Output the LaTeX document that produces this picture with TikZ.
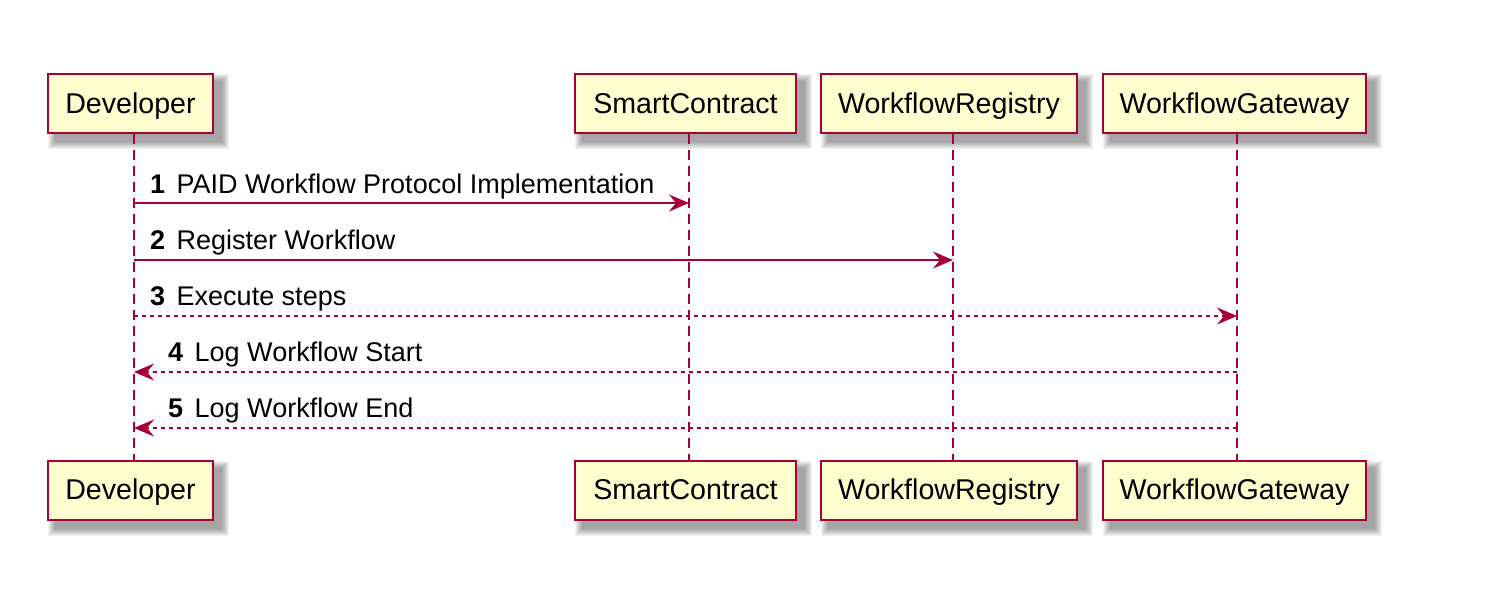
\documentclass[tikz,border=0pt]{standalone}
\usepackage{fontspec}
\setmainfont{Liberation Sans}
\usetikzlibrary{arrows.meta,backgrounds}
\definecolor{puml}{HTML}{A80036}
\definecolor{pfill}{HTML}{FEFECE}
\tikzset{
  actor/.style={draw=puml, fill=pfill, line width=2pt, minimum height=59pt, inner sep=0pt, text height=25pt, text depth=6pt, font=\fontsize{28.6}{32}\selectfont},
  lifeline/.style={draw=puml, line width=1.5pt, dash pattern=on 10pt off 6pt},
  msg/.style={draw=puml, line width=1.6pt, -{Stealth[length=20pt,width=17pt,inset=7pt]}},
  ret/.style={msg, dash pattern=on 4pt off 4pt},
  lbl/.style={anchor=base west, inner sep=0pt, font=\fontsize{27}{30}\selectfont}
}
\begin{document}
\begin{tikzpicture}[x=1pt,y=-1pt]
\useasboundingbox (0,0) rectangle (1492,590);
% lifeline x positions
\coordinate (Ld) at (134,0);
\coordinate (Ls) at (689,0);
\coordinate (Lr) at (953,0);
\coordinate (Lg) at (1237,0);
% top boxes
\node[actor, minimum width=165pt] (d1) at (130.5,103.5) {Developer};
\node[actor, minimum width=221pt] (s1) at (685.5,103.5) {SmartContract};
\node[actor, minimum width=256pt] (r1) at (949,103.5) {WorkflowRegistry};
\node[actor, minimum width=263pt] (g1) at (1234.5,103.5) {WorkflowGateway};
% bottom boxes
\node[actor, minimum width=165pt] (d2) at (130.5,490) {Developer};
\node[actor, minimum width=221pt] (s2) at (685.5,490) {SmartContract};
\node[actor, minimum width=256pt] (r2) at (949,490) {WorkflowRegistry};
\node[actor, minimum width=263pt] (g2) at (1234.5,490) {WorkflowGateway};
\begin{scope}[on background layer]
  \fill[white] (0,0) rectangle (1492,590);
  \foreach \n in {d1,s1,r1,g1,d2,s2,r2,g2}{
    \foreach \k in {0,1,...,7}{
      \fill[black, opacity=0.05] ([shift={(8-\k,8-\k)}]\n.north west) rectangle ([shift={(8+\k,8+\k)}]\n.south east);
    }
  }
  \draw[lifeline] (Ld |- d1.south) -- (Ld |- d2.north);
  \draw[lifeline] (Ls |- s1.south) -- (Ls |- s2.north);
  \draw[lifeline] (Lr |- r1.south) -- (Lr |- r2.north);
  \draw[lifeline] (Lg |- g1.south) -- (Lg |- g2.north);
\end{scope}
% messages
\coordinate (m1a) at (Ld |- 0,203); \coordinate (m1b) at (Ls |- 0,203);
\coordinate (m2a) at (Ld |- 0,260); \coordinate (m2b) at (Lr |- 0,260);
\coordinate (m3a) at (Ld |- 0,316); \coordinate (m3b) at (Lg |- 0,316);
\coordinate (m4a) at (Lg |- 0,372); \coordinate (m4b) at (Ld |- 0,372);
\coordinate (m5a) at (Lg |- 0,428); \coordinate (m5b) at (Ld |- 0,428);
\draw[msg] (m1a) -- (m1b);
\draw[msg] (m2a) -- (m2b);
\draw[ret] (m3a) -- (m3b);
\draw[ret] (m4a) -- (m4b);
\draw[ret] (m5a) -- (m5b);
\node[lbl] (t1) at (150,193) {\textbf{1}\hspace{4pt} PAID Workflow Protocol Implementation};
\node[lbl] (t2) at (150,249) {\textbf{2}\hspace{4pt} Register Workflow};
\node[lbl] (t3) at (150,305) {\textbf{3}\hspace{4pt} Execute steps};
\node[lbl] (t4) at (168,361) {\textbf{4}\hspace{4pt} Log Workflow Start};
\node[lbl] (t5) at (168,417) {\textbf{5}\hspace{4pt} Log Workflow End};
\end{tikzpicture}
\end{document}
